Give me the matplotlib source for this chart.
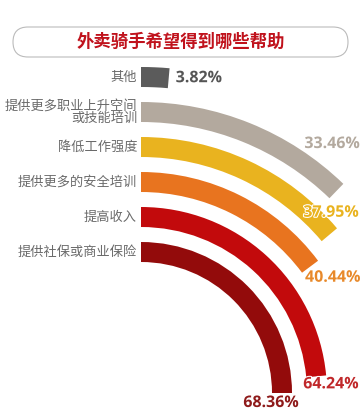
import numpy as np
import matplotlib
matplotlib.use("Agg")
import matplotlib.pyplot as plt
from matplotlib.patches import FancyBboxPatch
import matplotlib.patheffects as pe

plt.rcParams['font.family'] = ['Noto Sans CJK SC', 'DejaVu Sans']

# data (outer -> inner)
labels = ['其他', '提供更多职业上升空间\n或技能培训', '降低工作强度',
          '提供更多的安全培训', '提高收入', '提供社保或商业保险']
values = [3.82, 33.46, 37.95, 40.44, 64.24, 68.36]
bar_colors = ['#5b5b5b', '#b3a99e', '#e9b31f', '#e8741f', '#c20a0c', '#930b0b']
value_colors = ['#555555', '#b3a99e', '#e9b31f', '#e8892a', '#c0282a', '#8e1a1a']
# offsets (pixels) of the value labels from the end of each arc
value_offsets = [(7, 0, 'left'), (-32, 47, 'left'), (-26, 22, 'left'),
                 (-5, -11, 'left'), (-13, -8, 'left'), (-11, -10, 'center')]

W, H = 362, 418
cx, cy = 141, 393          # centre of the arcs in pixels (from top-left)
R = 340                    # radial extent of the axes, 1 unit = 1 px
deg_per_pct = 90 / max(values)
radii = [316, 281, 246, 211, 176, 141]
bar_w = 20

fig = plt.figure(figsize=(W / 100, H / 100), dpi=100)
ax = fig.add_axes([(cx - R) / W, (H - cy - R) / H, 2 * R / W, 2 * R / H],
                  projection='polar')
ax.set_theta_zero_location('N')
ax.set_theta_direction(-1)
ax.set_ylim(0, R)
ax.set_axis_off()

for lab, v, r, c, vc, (dx, dy, ha) in zip(labels, values, radii, bar_colors,
                                          value_colors, value_offsets):
    theta = np.deg2rad(v * deg_per_pct)
    ax.bar(0, bar_w, width=theta, bottom=r - bar_w / 2, align='edge',
           color=c, edgecolor='none')
    ax.annotate(lab, xy=(0, r), xytext=(-4, 0), textcoords='offset pixels',
                ha='right', va='center', fontsize=9.5, color='#6a6a6a',
                linespacing=0.95, annotation_clip=False)
    t = ax.annotate(f'{v:.2f}%', xy=(theta, r), xytext=(dx, dy),
                    textcoords='offset pixels', ha=ha, va='center',
                    fontsize=11.5, fontweight='bold', color=vc,
                    family=['Open Sans', 'DejaVu Sans'], annotation_clip=False)
    t.set_path_effects([pe.withStroke(linewidth=1.5, foreground='white')])

# title box
box = FancyBboxPatch((0.13, 3.61), 3.35, 0.30,
                     boxstyle='round,pad=0,rounding_size=0.15',
                     transform=fig.dpi_scale_trans, facecolor='white',
                     edgecolor='#bbbbbb', linewidth=0.8)
fig.patches.append(box)
fig.text(181 / W, 1 - 42 / H, '外卖骑手希望得到哪些帮助', ha='center', va='center',
         fontsize=12.5, fontweight='bold', color='#c0121c')

fig.savefig('out.png', dpi=100)
